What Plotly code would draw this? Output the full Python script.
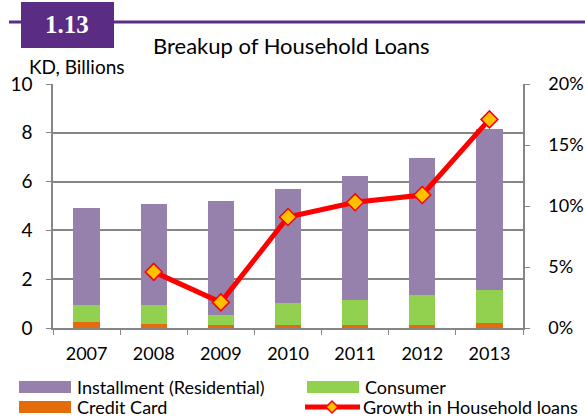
import plotly.graph_objects as go

years = ["2007", "2008", "2009", "2010", "2011", "2012", "2013"]
credit_card = [0.25, 0.17, 0.13, 0.13, 0.13, 0.13, 0.20]
consumer = [0.70, 0.78, 0.40, 0.90, 1.02, 1.23, 1.36]
installment = [3.95, 4.15, 4.67, 4.67, 5.10, 5.59, 6.59]
growth_years = ["2008", "2009", "2010", "2011", "2012", "2013"]
growth = [0.046, 0.021, 0.091, 0.103, 0.109, 0.171]

W, H = 585, 419
L, R, T, B = 53, 62, 84, 91
PW, PH = W - L - R, H - T - B

def px(x):
    return (x - L) / PW

def py(y):
    return (H - B - y) / PH

FONT = "Lato"
GRID = "#868686"
PURPLE_BOX = "#5B2C83"
C_INST, C_CONS, C_CC, C_RED, C_MK = "#9581AC", "#92D050", "#E46C0A", "#FF0000", "#FFC000"

fig = go.Figure()
fig.add_trace(go.Bar(x=years, y=credit_card, name="Credit Card", marker_color=C_CC,
                     marker_line_width=0))
fig.add_trace(go.Bar(x=years, y=consumer, name="Consumer", marker_color=C_CONS,
                     marker_line_width=0))
fig.add_trace(go.Bar(x=years, y=installment, name="Installment (Residential)", marker_color=C_INST,
                     marker_line_width=0))
fig.add_trace(go.Scatter(x=growth_years, y=growth, name="Growth in Household loans", yaxis="y2",
                         mode="lines+markers", line=dict(color=C_RED, width=5),
                         marker=dict(symbol="diamond", size=13, color=C_MK,
                                     line=dict(color=C_RED, width=1.5))))

fig.update_layout(
    width=W, height=H,
    margin=dict(l=L, r=R, t=T, b=B, autoexpand=False),
    paper_bgcolor="white", plot_bgcolor="white",
    barmode="stack", bargap=0.61,
    font=dict(family=FONT, size=18, color="black"),
    showlegend=False,
    xaxis=dict(type="category", showline=True, linecolor=GRID, linewidth=1.5,
               ticks="outside", tickson="boundaries", ticklen=5, tickcolor=GRID,
               ticklabelstandoff=9,
               tickfont=dict(size=18), showgrid=False, automargin=False),
    yaxis=dict(range=[0, 10], dtick=2, showline=True, linecolor=GRID, linewidth=1.5,
               showgrid=True, gridcolor=GRID, gridwidth=1.5,
               ticks="outside", ticklen=5, tickcolor=GRID, ticklabelstandoff=10,
               tickfont=dict(size=19), zeroline=False, automargin=False),
    yaxis2=dict(range=[0, 0.2], dtick=0.05, tickformat=".0%", overlaying="y", side="right",
                showline=True, linecolor=GRID, linewidth=1.5, showgrid=False,
                ticks="outside", ticklen=5, tickcolor=GRID, ticklabelstandoff=15,
                tickfont=dict(size=18), zeroline=False, automargin=False),
)

# header line and number box
fig.add_shape(type="line", xref="paper", yref="paper", x0=px(9), x1=px(585), y0=py(22), y1=py(22),
              line=dict(color=PURPLE_BOX, width=3))
fig.add_shape(type="rect", xref="paper", yref="paper", x0=px(21), x1=px(114), y0=py(48), y1=py(2),
              fillcolor=PURPLE_BOX, line=dict(width=0))
fig.add_annotation(xref="paper", yref="paper", x=px(67), y=py(25), text="<b>1.13</b>",
                   showarrow=False, font=dict(family="Liberation Serif", size=25, color="white"),
                   xanchor="center", yanchor="middle")
fig.add_annotation(xref="paper", yref="paper", x=px(291), y=py(46), text="Breakup of Household Loans",
                   showarrow=False, font=dict(family=FONT, size=22), xanchor="center", yanchor="middle")
fig.add_annotation(xref="paper", yref="paper", x=px(27), y=py(66), text="KD, Billions",
                   showarrow=False, font=dict(family=FONT, size=19), xanchor="left", yanchor="middle")

# legend (manual, to match the wide swatches)
legend_items = [
    ("Installment (Residential)", C_INST, 19, 387, "bar"),
    ("Consumer", C_CONS, 307, 387, "bar"),
    ("Credit Card", C_CC, 19, 407, "bar"),
    ("Growth in Household loans", C_RED, 305, 407, "line"),
]
for label, color, x0, yc, kind in legend_items:
    if kind == "bar":
        fig.add_shape(type="rect", xref="paper", yref="paper", x0=px(x0), x1=px(x0 + 52),
                      y0=py(yc + 6), y1=py(yc - 6), fillcolor=color, line=dict(width=0))
    else:
        fig.add_shape(type="line", xref="paper", yref="paper", x0=px(x0), x1=px(x0 + 55),
                      y0=py(yc), y1=py(yc), line=dict(color=color, width=5))
        cx = x0 + 27
        fig.add_shape(type="path", xref="paper", yref="paper",
                      path=f"M {px(cx - 6)},{py(yc)} L {px(cx)},{py(yc - 6)} L {px(cx + 6)},{py(yc)} L {px(cx)},{py(yc + 6)} Z",
                      fillcolor=C_MK, line=dict(color=C_RED, width=1.5))
    fig.add_annotation(xref="paper", yref="paper", x=px(x0 + 56), y=py(yc), text=label,
                       showarrow=False, font=dict(family=FONT, size=18),
                       xanchor="left", yanchor="middle")

fig.write_html("out.html", config={"displayModeBar": False},
               post_script="document.body.style.margin='0px';document.body.style.overflow='hidden';")
